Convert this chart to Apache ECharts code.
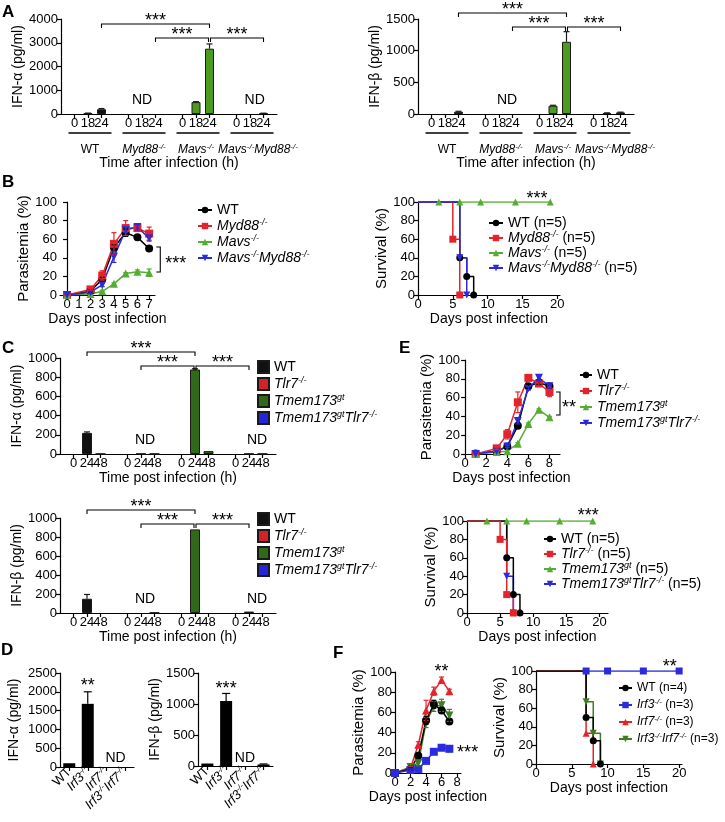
<!DOCTYPE html>
<html><head><meta charset="utf-8">
<script src="https://cdn.jsdelivr.net/npm/echarts@6/dist/echarts.min.js"></script>
<style>html,body{margin:0;padding:0;background:#fff}#c{width:725px;height:822px}</style>
</head><body><div id="c"></div>
<script>
// ================= DATA =================
const A_TIMES = ['0','18','24'];
const A_GENOTYPES = ['WT','Myd88','Mavs','MavsMyd88'];
const A_IFNA = [[0,30,200],[0,0,0],[0,500,2750],[0,0,30]];
const A_IFNA_ERR = [[0,8,30],[0,0,0],[0,20,200],[0,0,5]];
const A_IFNB = [[0,0,35],[0,0,0],[0,130,1140],[0,15,25]];
const A_IFNB_ERR = [[0,0,8],[0,0,0],[0,8,160],[0,3,4]];

const B_DAYS = [0,2,3,4,5,6,7];
const B_PARA_WT = [0,4,17,51,67,62,50];
const B_PARA_WT_ERR = [0,1,2,3,4,1,1];
const B_PARA_MYD88 = [0,6,21,55,72,72,66];
const B_PARA_MYD88_ERR = [0,1,5,12,8,2,7];
const B_PARA_MAVS = [0,1,4,12,23,25,24];
const B_PARA_MAVS_ERR = [0,0,1,1,1,2,4];
const B_PARA_DKO = [0,3,11,41,70,73,61];
const B_PARA_DKO_ERR = [0,1,2,6,3,3,3];
const B_TICKS = [0,1,2,3,4,5,6,7];

const B_SURV_WT_DAYS = [0,6,7,8];      const B_SURV_WT = [100,40,20,0];
const B_SURV_MYD88_DAYS = [0,5,6];     const B_SURV_MYD88 = [100,60,0];
const B_SURV_MAVS_DAYS = [0,3,6,9,14,19]; const B_SURV_MAVS = [100,100,100,100,100,100];
const B_SURV_DKO_DAYS = [0,6,7];       const B_SURV_DKO = [100,40,0];

const C_TIMES = ['0','24','48'];
const C_GENOTYPES = ['WT','Tlr7','Tmem','TmemTlr7'];
const C_IFNA = [[0,220,2],[0,3,3],[0,880,30],[0,3,3]];
const C_IFNA_ERR = [[0,10,0],[0,0,0],[0,8,0],[0,0,0]];
const C_IFNB = [[0,150,0],[0,0,5],[0,880,0],[0,15,0]];
const C_IFNB_ERR = [[0,45,0],[0,0,0],[0,0,0],[0,0,0]];

const D_GENOTYPES = ['WT','Irf3','Irf7','Irf3Irf7'];
const D_IFNA = [100,1680,0,0];
const D_IFNA_ERR = [0,320,0,0];
const D_IFNB = [40,1050,0,25];
const D_IFNB_ERR = [0,120,0,8];

const E_DAYS = [1,3,4,5,6,7,8];
const E_PARA_WT = [0.5,3,8,30,72,76,72];
const E_PARA_WT_ERR = [0,0,1,2,2,2,2];
const E_PARA_TLR7 = [0,6,21,55,81,75,66];
const E_PARA_TLR7_ERR = [0,1,5,11,2,3,5];
const E_PARA_TMEM = [0,2,3,11,32,47,39];
const E_PARA_TMEM_ERR = [0,0,0,1,1,1,1];
const E_PARA_DKO = [0,3,8,35,70,81,72];
const E_PARA_DKO_ERR = [0,0,1,3,2,3,2];

const E_SURV_WT_DAYS = [0,6,7,8];       const E_SURV_WT = [100,60,20,0];
const E_SURV_TLR7_DAYS = [0,5,6,7];     const E_SURV_TLR7 = [100,80,20,0];
const E_SURV_TMEM_DAYS = [0,3,6,9,14,19]; const E_SURV_TMEM = [100,100,100,100,100,100];
const E_SURV_DKO_DAYS = [0,6,7];        const E_SURV_DKO = [100,40,0];

const F_DAYS = [0,2,3,4,5,6,7];
const F_PARA_WT = [0,4,17,52,68,62,51];
const F_PARA_WT_ERR = [0,1,2,4,4,3,2];
const F_PARA_IRF3 = [0,3,4,12,21,25,24];
const F_PARA_IRF3_ERR = [0,1,1,1,1,2,3];
const F_PARA_IRF7 = [0,5,28,62,81,92,81];
const F_PARA_IRF7_ERR = [0,1,3,10,4,3,2];
const F_PARA_DKO = [0,6,10,50,66,67,57];
const F_PARA_DKO_ERR = [0,2,3,5,5,6,6];

const F_SURV_WT_DAYS = [0,7,8,9];        const F_SURV_WT = [100,50,25,0];
const F_SURV_IRF3_DAYS = [0,7,10,15,20]; const F_SURV_IRF3 = [100,100,100,100,100];
const F_SURV_IRF7_DAYS = [0,7,8];        const F_SURV_IRF7 = [100,33,0];
const F_SURV_DKO_DAYS = [0,7,8,9];       const F_SURV_DKO = [100,67,33,0];

const LABEL = {
  WT:'{n|WT}', Myd88:'{i|Myd88}{s|-/-}', Mavs:'{i|Mavs}{s|-/-}', MavsMyd88:'{i|Mavs}{s|-/-}{i|Myd88}{s|-/-}',
  Tlr7:'{i|Tlr7}{s|-/-}', Tmem:'{i|Tmem173}{s|gt}', TmemTlr7:'{i|Tmem173}{s|gt}{i|Tlr7}{s|-/-}',
  Irf3:'{i|Irf3}{s|-/-}', Irf7:'{i|Irf7}{s|-/-}', Irf3Irf7:'{i|Irf3}{s|-/-}{i|Irf7}{s|-/-}'
};

// ================= STYLE / HELPERS =================
const FONT = '"Liberation Sans", Arial, Helvetica, sans-serif';
const BLACK = '#000';
const RED = '#e3242b', GREEN = '#55ad33', BLUE = '#2b2bdd';
const A_COLORS = ['#111111','#d9262c','#4e9a1f','#2b2bc8'];
const C_COLORS = ['#111111','#d2232a','#30691a','#2424d8'];

function rich(fs){
  const ss = Math.round(fs*0.64);
  return {
    n:{fontSize:fs,fontFamily:FONT,color:BLACK,lineHeight:fs+2},
    i:{fontStyle:'italic',fontSize:fs,fontFamily:FONT,color:BLACK,lineHeight:fs+2},
    s:{fontStyle:'italic',fontSize:ss,fontFamily:FONT,color:BLACK,verticalAlign:'top',lineHeight:ss+1}
  };
}
const grids=[], xAxes=[], yAxes=[], series=[], legends=[];
const AX_LINE = {show:true,lineStyle:{color:BLACK,width:1.2}};
const AX_TICK = {show:true,length:4,inside:false,lineStyle:{color:BLACK,width:1.2}};
const LBL = {color:BLACK,fontSize:13,fontFamily:FONT,margin:3};
const NUM = (v)=>String(v);
const NAME_STYLE = (fs)=>({fontSize:fs||14,fontFamily:FONT,color:BLACK});

function addGrid(rect,x,y){
  const i = grids.length;
  grids.push(Object.assign({containLabel:false},rect));
  xAxes.push(Object.assign({gridIndex:i},x));
  yAxes.push(Object.assign({gridIndex:i},y));
  return i;
}
function yVal(min,max,interval,name,nameGap,nameSize){
  return {type:'value',min,max,interval,axisLine:AX_LINE,axisTick:AX_TICK,
    axisLabel:Object.assign({},LBL,{formatter:NUM}),splitLine:{show:false},
    name,nameLocation:'middle',nameGap,nameTextStyle:NAME_STYLE(nameSize)};
}
function xVal(min,max,ticks,name,nameGap){
  return {type:'value',min,max,axisLine:AX_LINE,
    axisTick:Object.assign({},AX_TICK,{customValues:ticks}),
    axisLabel:Object.assign({},LBL,{customValues:ticks,formatter:NUM}),
    splitLine:{show:false},name,nameLocation:'middle',nameGap,nameTextStyle:NAME_STYLE(14)};
}
function errSeries(gi,points,color,symmetric,cap){
  if(!points.length) return;
  series.push({type:'custom',xAxisIndex:gi,yAxisIndex:gi,silent:true,clip:false,z:4,
    data:points,
    renderItem:(params,api)=>{
      const x=api.value(0), y=api.value(1), e=api.value(2);
      const top=api.coord([x,y+e]), mid=api.coord([x,y]), bot=api.coord([x,symmetric?y-e:y]);
      const w=cap/2, st={stroke:color,lineWidth:1.2};
      const ch=[
        {type:'line',shape:{x1:mid[0],y1:bot[1],x2:mid[0],y2:top[1]},style:st},
        {type:'line',shape:{x1:mid[0]-w,y1:top[1],x2:mid[0]+w,y2:top[1]},style:st}
      ];
      if(symmetric) ch.push({type:'line',shape:{x1:mid[0]-w,y1:bot[1],x2:mid[0]+w,y2:bot[1]},style:st});
      return {type:'group',children:ch};
    }});
}
function pt(api,x,y){
  const f=Math.floor(x), c=Math.ceil(x);
  const p=api.coord([f,y]);
  if(f===c) return p;
  const q=api.coord([c,y]);
  return [p[0]+(q[0]-p[0])*(x-f), p[1]];
}
function drawAnnot(d,api){
  const st={stroke:BLACK,lineWidth:1.1,fill:'none'};
  if(d.t==='hb'){
    const p=pt(api,d.x1,d.y), q=pt(api,d.x2,d.y);
    const x1=p[0]+(d.i1||0), x2=q[0]-(d.i2||0), y=p[1];
    return {type:'group',children:[
      {type:'polyline',shape:{points:[[x1,y+4],[x1,y],[x2,y],[x2,y+4]]},style:st},
      {type:'text',x:(x1+x2)/2,y:y-3,style:{text:d.text,fontSize:18,fontFamily:FONT,fill:BLACK,align:'center',verticalAlign:'middle'}}
    ]};
  }
  if(d.t==='vb'){
    const p=pt(api,d.x,d.y1), q=pt(api,d.x,d.y2);
    return {type:'polyline',shape:{points:[[p[0]-4,p[1]],[p[0],p[1]],[p[0],q[1]],[p[0]-4,q[1]]]},style:st};
  }
  if(d.t==='txt'){
    const p=pt(api,d.x,d.y);
    return {type:'text',x:p[0]+(d.dx||0),y:p[1]+(d.dy||0),style:{text:d.text,fontSize:d.fs||14,fontFamily:FONT,fill:BLACK,
      align:d.align||'center',verticalAlign:'middle'}};
  }
  if(d.t==='grp'){
    const p=api.coord([d.x1,0]), q=api.coord([d.x2,0]);
    const y0=p[1], a=p[0]-6, b=q[0]+10;
    return {type:'group',children:[
      {type:'line',shape:{x1:a,y1:y0+19,x2:b,y2:y0+19},style:{stroke:BLACK,lineWidth:1.5}},
      {type:'text',x:(a+b)/2+(d.dx||0),y:y0+36,style:{text:d.label,rich:rich(12),fontSize:12,fontFamily:FONT,fill:BLACK,align:'center',verticalAlign:'middle'}}
    ]};
  }
  return null;
}
function annot(gi,defs){
  series.push({type:'custom',xAxisIndex:gi,yAxisIndex:gi,silent:true,clip:false,z:10,
    data:defs.map(()=>[0,0]),
    renderItem:(params,api)=>drawAnnot(defs[params.dataIndex],api)});
}
function legend(names,texts,left,top,gap,o,fs){
  const f=fs||14;
  legends.push(Object.assign({orient:'vertical',left,top,itemGap:gap,itemWidth:14,itemHeight:8,padding:0,
    data:names,selectedMode:false,
    formatter:(n)=>texts[names.indexOf(n)],
    textStyle:{fontSize:f,fontFamily:FONT,color:BLACK,rich:rich(f)}},o||{}));
}
function barPanel(o){
  const n=o.times.length;
  const cats=[''];
  o.genos.forEach(()=>{o.times.forEach(t=>cats.push(t)); cats.push('');});
  const gi=addGrid(o.rect,
    {type:'category',data:cats,boundaryGap:false,axisLine:AX_LINE,
     axisTick:Object.assign({},AX_TICK,{interval:(i,v)=>v!==''}),
     axisLabel:Object.assign({},LBL,{interval:0}),
     name:o.xName,nameLocation:'middle',nameGap:o.xNameGap,nameTextStyle:NAME_STYLE(14)},
    yVal(0,o.yMax,o.yInt,o.yName,o.yNameGap));
  o.genos.forEach((g,k)=>{
    const data=cats.map(()=>null);
    o.values[k].forEach((v,t)=>{data[1+k*(n+1)+t]=v>0?v:null;});
    series.push({type:'bar',name:o.key+'|'+g,xAxisIndex:gi,yAxisIndex:gi,data,barWidth:o.barWidth,barGap:'-100%',
      itemStyle:{color:o.colors[k],borderColor:'#1a1a1a',borderWidth:1},z:2});
    const pts=[];
    o.errs[k].forEach((e,t)=>{if(e>0) pts.push([1+k*(n+1)+t,o.values[k][t],e]);});
    errSeries(gi,pts,'#1a1a1a',false,6);
  });
  return gi;
}
function paraSeries(gi,key,name,days,vals,errs,color,symbol,rot){
  series.push({type:'line',name:key+'|'+name,xAxisIndex:gi,yAxisIndex:gi,
    data:days.map((d,i)=>[d,vals[i]]),symbol,symbolRotate:rot||0,symbolSize:8,showAllSymbol:true,
    lineStyle:{color,width:1.5},itemStyle:{color},z:3});
  errSeries(gi,days.map((d,i)=>[d,vals[i],errs[i]]).filter(p=>p[2]>0),color,true,5);
}
function survSeries(gi,key,name,days,vals,color,symbol,rot){
  series.push({type:'line',name:key+'|'+name,xAxisIndex:gi,yAxisIndex:gi,step:'end',
    data:days.map((d,i)=>i===0?{value:[d,vals[i]],symbolSize:0}:[d,vals[i]]),
    symbol,symbolRotate:rot||0,symbolSize:7,showAllSymbol:true,
    lineStyle:{color,width:1.5},itemStyle:{color},z:3});
}

// ================= PANEL A =================
const gA1 = barPanel({key:'A1',rect:{left:61,top:19,width:216,height:95},yMax:4000,yInt:1000,
  yName:'IFN-α (pg/ml)',yNameGap:35,xName:'Time after infection (h)',xNameGap:42,
  times:A_TIMES,genos:A_GENOTYPES,values:A_IFNA,errs:A_IFNA_ERR,colors:A_COLORS,barWidth:9});
const gA2 = barPanel({key:'A2',rect:{left:418,top:19,width:216,height:95},yMax:1500,yInt:500,
  yName:'IFN-β (pg/ml)',yNameGap:33,xName:'Time after infection (h)',xNameGap:42,
  times:A_TIMES,genos:A_GENOTYPES,values:A_IFNB,errs:A_IFNB_ERR,colors:A_COLORS,barWidth:9});
const A_GROUP_DX = [0,0,-2,6];
const A_GROUPS = A_GENOTYPES.map((g,k)=>({t:'grp',x1:1+k*4,x2:3+k*4,label:LABEL[g],dx:A_GROUP_DX[k]}));
annot(gA1,[
  {t:'hb',x1:3,x2:11,y:3790,text:'***'},
  {t:'hb',x1:7,x2:11,y:3200,text:'***',i2:1},
  {t:'hb',x1:11,x2:15,y:3200,text:'***',i1:1},
  {t:'txt',x:6,y:590,text:'ND'},
  {t:'txt',x:14.35,y:590,text:'ND'}
].concat(A_GROUPS));
annot(gA2,[
  {t:'hb',x1:3,x2:11,y:1595,text:'***'},
  {t:'hb',x1:7,x2:11,y:1374,text:'***',i2:1},
  {t:'hb',x1:11,x2:15,y:1374,text:'***',i1:1},
  {t:'txt',x:6.6,y:221,text:'ND'}
].concat(A_GROUPS));

// ================= PANEL B =================
const gB1 = addGrid({left:60,top:202,width:95,height:93},
  xVal(-0.6,7.5,B_TICKS,'Days post infection',13),
  yVal(0,100,20,'Parasitemia (%)',22,15));
paraSeries(gB1,'B1','WT',B_DAYS,B_PARA_WT,B_PARA_WT_ERR,BLACK,'circle');
paraSeries(gB1,'B1','Myd88',B_DAYS,B_PARA_MYD88,B_PARA_MYD88_ERR,RED,'rect');
paraSeries(gB1,'B1','Mavs',B_DAYS,B_PARA_MAVS,B_PARA_MAVS_ERR,GREEN,'triangle');
paraSeries(gB1,'B1','MavsMyd88',B_DAYS,B_PARA_DKO,B_PARA_DKO_ERR,BLUE,'triangle',180);
annot(gB1,[{t:'vb',x:7.95,y1:51.6,y2:24.7},{t:'txt',x:8.37,y:37.6,dy:4,text:'***',fs:18,align:'left'}]);
legend(['B1|WT','B1|Myd88','B1|Mavs','B1|MavsMyd88'],[LABEL.WT,LABEL.Myd88,LABEL.Mavs,LABEL.MavsMyd88],197,203,1);

const gB2 = addGrid({left:418,top:202,width:142,height:93},
  xVal(0,20.4,[0,5,10,15,20],'Days post infection',13),
  yVal(0,100,20,'Survival (%)',21,15));
survSeries(gB2,'B2','Mavs',B_SURV_MAVS_DAYS,B_SURV_MAVS,GREEN,'triangle');
survSeries(gB2,'B2','WT',B_SURV_WT_DAYS,B_SURV_WT,BLACK,'circle');
survSeries(gB2,'B2','Myd88',B_SURV_MYD88_DAYS,B_SURV_MYD88,RED,'rect');
survSeries(gB2,'B2','MavsMyd88',B_SURV_DKO_DAYS,B_SURV_DKO,BLUE,'triangle',180);
annot(gB2,[{t:'txt',x:17.1,y:100,dy:-3,text:'***',fs:18}]);
legend(['B2|WT','B2|Myd88','B2|Mavs','B2|MavsMyd88'],
  [LABEL.WT+' (n=5)',LABEL.Myd88+' (n=5)',LABEL.Mavs+' (n=5)',LABEL.MavsMyd88+' (n=5)'],488,216,0);

// ================= PANEL C =================
const gC1 = barPanel({key:'C1',rect:{left:60,top:358,width:216,height:96},yMax:1000,yInt:200,
  yName:'IFN-α (pg/ml)',yNameGap:26,xName:'Time post infection (h)',xNameGap:16,
  times:C_TIMES,genos:C_GENOTYPES,values:C_IFNA,errs:C_IFNA_ERR,colors:C_COLORS,barWidth:10});
const gC2 = barPanel({key:'C2',rect:{left:60,top:518,width:216,height:95},yMax:1000,yInt:200,
  yName:'IFN-β (pg/ml)',yNameGap:26,xName:'Time post infection (h)',xNameGap:16,
  times:C_TIMES,genos:C_GENOTYPES,values:C_IFNB,errs:C_IFNB_ERR,colors:C_COLORS,barWidth:10});
annot(gC1,[
  {t:'hb',x1:2,x2:10,y:1062,text:'***'},
  {t:'hb',x1:6,x2:10,y:917,text:'***',i2:1},
  {t:'hb',x1:10,x2:14,y:917,text:'***',i1:1},
  {t:'txt',x:6.3,y:146,text:'ND'},
  {t:'txt',x:14.6,y:146,text:'ND'}
]);
annot(gC2,[
  {t:'hb',x1:2,x2:10,y:1084,text:'***'},
  {t:'hb',x1:6,x2:10,y:937,text:'***',i2:1},
  {t:'hb',x1:10,x2:14,y:937,text:'***',i1:1},
  {t:'txt',x:6.3,y:147,text:'ND'},
  {t:'txt',x:14.6,y:147,text:'ND'}
]);
const C_LEG_TEXT = C_GENOTYPES.map(g=>LABEL[g]);
legend(C_GENOTYPES.map(g=>'C1|'+g),C_LEG_TEXT,257,360,2,{icon:'rect',itemWidth:11,itemHeight:12});
legend(C_GENOTYPES.map(g=>'C2|'+g),C_LEG_TEXT,257,512,2,{icon:'rect',itemWidth:11,itemHeight:12});

// ================= PANEL D =================
const dXAxis = {type:'category',data:D_GENOTYPES,axisLine:AX_LINE,
  axisTick:Object.assign({},AX_TICK,{alignWithLabel:true}),
  axisLabel:Object.assign({},LBL,{interval:0,rotate:45,fontSize:13,formatter:(v)=>LABEL[v],rich:rich(13)})};
const gD1 = addGrid({left:60,top:673,width:74,height:94},dXAxis,yVal(0,2500,500,'IFN-α (pg/ml)',39));
const gD2 = addGrid({left:198,top:673,width:75,height:93},Object.assign({},dXAxis),yVal(0,1500,500,'IFN-β (pg/ml)',29));
series.push({type:'bar',name:'D1|IFNA',xAxisIndex:gD1,yAxisIndex:gD1,data:D_IFNA.map(v=>v>0?v:null),barWidth:12,itemStyle:{color:BLACK}});
series.push({type:'bar',name:'D2|IFNB',xAxisIndex:gD2,yAxisIndex:gD2,data:D_IFNB.map(v=>v>0?v:null),barWidth:12,itemStyle:{color:BLACK}});
errSeries(gD1,D_IFNA.map((v,i)=>[i,v,D_IFNA_ERR[i]]).filter(p=>p[2]>0),BLACK,false,8);
errSeries(gD2,D_IFNB.map((v,i)=>[i,v,D_IFNB_ERR[i]]).filter(p=>p[2]>0),BLACK,false,8);
annot(gD1,[{t:'txt',x:1,y:2260,dy:4,text:'**',fs:18},{t:'txt',x:2.5,y:240,text:'ND'}]);
annot(gD2,[{t:'txt',x:1,y:1306,dy:4,text:'***',fs:18},{t:'txt',x:2,y:130,text:'ND'}]);

// ================= PANEL E =================
const gE1 = addGrid({left:463,top:360,width:97,height:94},
  xVal(-0.2,9,[0,2,4,6,8],'Days post infection',15),
  yVal(0,100,20,'Parasitemia (%)',20,15));
paraSeries(gE1,'E1','WT',E_DAYS,E_PARA_WT,E_PARA_WT_ERR,BLACK,'circle');
paraSeries(gE1,'E1','Tlr7',E_DAYS,E_PARA_TLR7,E_PARA_TLR7_ERR,RED,'rect');
paraSeries(gE1,'E1','Tmem',E_DAYS,E_PARA_TMEM,E_PARA_TMEM_ERR,GREEN,'triangle');
paraSeries(gE1,'E1','TmemTlr7',E_DAYS,E_PARA_DKO,E_PARA_DKO_ERR,BLUE,'triangle',180);
annot(gE1,[{t:'vb',x:9.0,y1:66,y2:41.5},{t:'txt',x:9.2,y:53,dy:4,text:'**',fs:18,align:'left'}]);
legend(['E1|WT','E1|Tlr7','E1|Tmem','E1|TmemTlr7'],C_LEG_TEXT,579,368,1,{itemWidth:12});

const gE2 = addGrid({left:467,top:521,width:141,height:92},
  xVal(0,21.3,[0,5,10,15,20],'Days post infection',15),
  yVal(0,100,20,'Survival (%)',22,15));
survSeries(gE2,'E2','TmemTlr7',E_SURV_DKO_DAYS,E_SURV_DKO,BLUE,'triangle',180);
survSeries(gE2,'E2','Tmem',E_SURV_TMEM_DAYS,E_SURV_TMEM,GREEN,'triangle');
survSeries(gE2,'E2','WT',E_SURV_WT_DAYS,E_SURV_WT,BLACK,'circle');
survSeries(gE2,'E2','Tlr7',E_SURV_TLR7_DAYS,E_SURV_TLR7,RED,'rect');
annot(gE2,[{t:'txt',x:18.3,y:100,dy:-5,text:'***',fs:18}]);
legend(['E2|WT','E2|Tlr7','E2|Tmem','E2|TmemTlr7'],C_LEG_TEXT.map(t=>t+' (n=5)'),543,532,0,{itemWidth:12});

// ================= PANEL F =================
const gF1 = addGrid({left:395,top:672,width:66,height:101},
  xVal(0,8.5,[0,2,4,6,8],'Days post infection',15),
  yVal(0,100,20,'Parasitemia (%)',26,15));
paraSeries(gF1,'F1','DKO',F_DAYS,F_PARA_DKO,F_PARA_DKO_ERR,'#3d7f1f','triangle',180);
paraSeries(gF1,'F1','Irf7',F_DAYS,F_PARA_IRF7,F_PARA_IRF7_ERR,RED,'triangle');
paraSeries(gF1,'F1','WT',F_DAYS,F_PARA_WT,F_PARA_WT_ERR,BLACK,'circle');
paraSeries(gF1,'F1','Irf3',F_DAYS,F_PARA_IRF3,F_PARA_IRF3_ERR,BLUE,'rect');
annot(gF1,[{t:'txt',x:6,y:100,dy:0,text:'**',fs:18},{t:'txt',x:8.0,y:24,dy:4,text:'***',fs:18,align:'left'}]);

const gF2 = addGrid({left:536,top:671,width:146,height:93},
  xVal(0,20.4,[0,5,10,15,20],'Days post infection',15),
  yVal(0,100,20,'Survival (%)',21,15));
survSeries(gF2,'F2','Irf3',F_SURV_IRF3_DAYS,F_SURV_IRF3,BLUE,'rect');
survSeries(gF2,'F2','Irf3Irf7',F_SURV_DKO_DAYS,F_SURV_DKO,'#3d7f1f','triangle',180);
survSeries(gF2,'F2','Irf7',F_SURV_IRF7_DAYS,F_SURV_IRF7,RED,'triangle');
survSeries(gF2,'F2','WT',F_SURV_WT_DAYS,F_SURV_WT,BLACK,'circle');
annot(gF2,[{t:'txt',x:18.7,y:100,dy:-4,text:'**',fs:18}]);
legend(['F2|WT','F2|Irf3','F2|Irf7','F2|Irf3Irf7'],
  [LABEL.WT+' (n=4)',LABEL.Irf3+' (n=3)',LABEL.Irf7+' (n=3)',LABEL.Irf3Irf7+' (n=3)'],618,682,4,{itemWidth:13},12);

// ================= PANEL LETTERS =================
const LETTER_FONT = 'bold 17px "Liberation Sans", Arial, sans-serif';
const letters = [['A',2,4],['B',2,174],['C',2,340],['D',1,642],['E',399,340],['F',333,645]];

const chart = echarts.init(document.getElementById('c'),null,{renderer:'canvas',width:725,height:822});
chart.setOption({
  animation:false,
  backgroundColor:'#fff',
  textStyle:{fontFamily:FONT},
  grid:grids, xAxis:xAxes, yAxis:yAxes, series, legend:legends,
  graphic:letters.map(l=>({type:'text',left:l[1],top:l[2],style:{text:l[0],font:LETTER_FONT,fill:BLACK}}))
});
</script></body></html>
